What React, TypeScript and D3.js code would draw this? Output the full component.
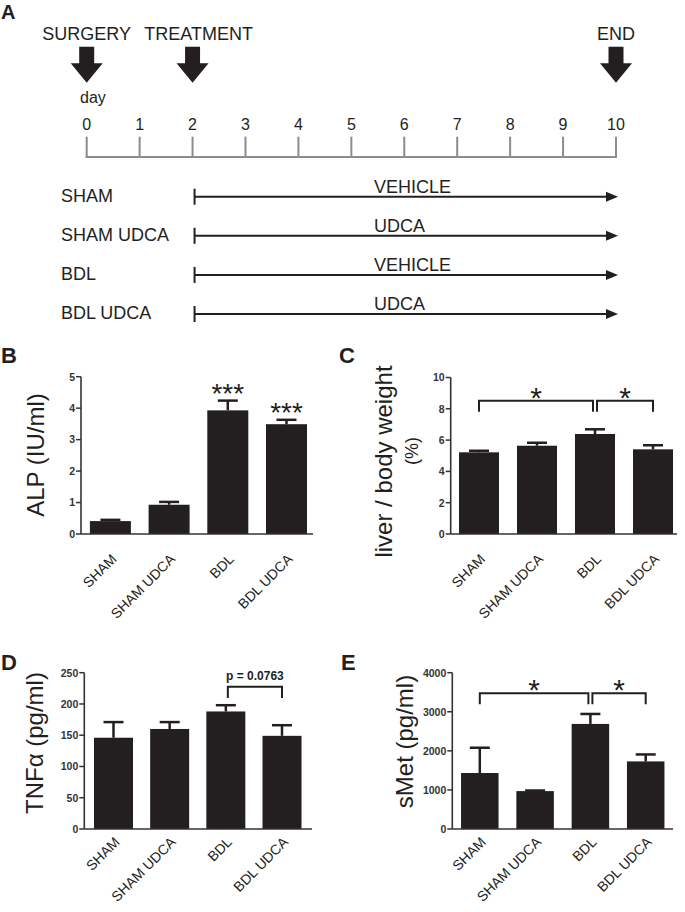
import React from "react";
import * as d3 from "d3";

const FONT = "'Liberation Sans', Arial, Helvetica, sans-serif";
const INK = "#231f20";

// ---------- data ----------
const groups = ["SHAM", "SHAM UDCA", "BDL", "BDL UDCA"];
const treatments = ["VEHICLE", "UDCA", "VEHICLE", "UDCA"];
const days = [0, 1, 2, 3, 4, 5, 6, 7, 8, 9, 10];
const events = [
  { label: "SURGERY", day: 0 },
  { label: "TREATMENT", day: 2 },
  { label: "END", day: 10 },
];
const treatmentStartDay = 2;
const treatmentEndDay = 10;

const alpMean = [0.41, 0.93, 3.93, 3.49];
const alpErr = [0.04, 0.09, 0.31, 0.14];
const alpTicks = [0, 1, 2, 3, 4, 5];

const liverMean = [5.22, 5.64, 6.39, 5.41];
const liverErr = [0.1, 0.19, 0.3, 0.26];
const liverTicks = [0, 2, 4, 6, 8, 10];

const tnfMean = [146, 160, 188, 149];
const tnfErr = [25, 11, 10, 17];
const tnfTicks = [0, 50, 100, 150, 200, 250];

const smetMean = [1433, 970, 2689, 1730];
const smetErr = [647, 15, 255, 178];
const smetTicks = [0, 1000, 2000, 3000, 4000];

// ---------- panels ----------
type Bracket = { from: number; to: number; top: number; leg: number; label: string; bold?: boolean; size: number };
type Sig = { idx: number; label: string };

type PanelCfg = {
  letter: string;
  letterX: number;
  letterY: number;
  means: number[];
  errs: number[];
  ticks: number[];
  axisX: number;
  axisEnd: number;
  y0: number;
  y1: number;
  c0: number;
  c1: number;
  barW: number;
  ylabel: string;
  ylabel2?: string;
  lx: number;
  ly: number;
  l2x?: number;
  l2y?: number;
  xlabDy: number;
  brackets: Bracket[];
  sigs: Sig[];
};

function BarPanel({ cfg }: { cfg: PanelCfg }) {
  const max = cfg.ticks[cfg.ticks.length - 1];
  const y = d3.scaleLinear().domain([0, max]).range([cfg.y0, cfg.y1]);
  const x = d3.scalePoint<string>().domain(groups).range([cfg.c0, cfg.c1]);
  const capW = 20;
  return (
    <g>
      <text x={cfg.letterX} y={cfg.letterY} fontSize={22} fontWeight="bold" fontFamily={FONT} fill={INK}>
        {cfg.letter}
      </text>
      {/* bars */}
      {groups.map((g, i) => {
        const cx = x(g)!;
        const top = y(cfg.means[i]);
        const et = y(cfg.means[i] + cfg.errs[i]);
        return (
          <g key={g}>
            <line x1={cx} x2={cx} y1={top} y2={et} stroke={INK} strokeWidth={2.5} />
            <line x1={cx - capW / 2} x2={cx + capW / 2} y1={et} y2={et} stroke={INK} strokeWidth={2.5} />
            <rect x={cx - cfg.barW / 2} y={top} width={cfg.barW} height={cfg.y0 - top} fill={INK} />
          </g>
        );
      })}
      {/* axes */}
      <line x1={cfg.axisX} x2={cfg.axisX} y1={cfg.y0} y2={y(max)} stroke="#333" strokeWidth={1.6} />
      <line x1={cfg.axisX} x2={cfg.axisEnd} y1={cfg.y0} y2={cfg.y0} stroke="#333" strokeWidth={1.6} />
      {cfg.ticks.map((t) => (
        <g key={t}>
          <line x1={cfg.axisX - 5} x2={cfg.axisX} y1={y(t)} y2={y(t)} stroke="#333" strokeWidth={1.5} />
          <text
            x={cfg.axisX - 6}
            y={y(t) + 3.8}
            textAnchor="end"
            fontSize={10.5}
            fontWeight="bold"
            fontFamily={FONT}
            fill="#333"
          >
            {t}
          </text>
        </g>
      ))}
      {/* x labels */}
      {groups.map((g) => (
        <text
          key={g}
          transform={`translate(${x(g)! + 7},${cfg.y0 + cfg.xlabDy}) rotate(-45)`}
          textAnchor="end"
          fontSize={14}
          fontFamily={FONT}
          fill={INK}
        >
          {g}
        </text>
      ))}
      {/* y label */}
      <text
        transform={`translate(${cfg.lx},${cfg.ly}) rotate(-90)`}
        textAnchor="middle"
        fontSize={24}
        fontFamily={FONT}
        fill={INK}
      >
        {cfg.ylabel}
      </text>
      {cfg.ylabel2 && (
        <text
          transform={`translate(${cfg.l2x},${cfg.l2y}) rotate(-90)`}
          textAnchor="middle"
          fontSize={18}
          fontFamily={FONT}
          fill={INK}
        >
          {cfg.ylabel2}
        </text>
      )}
      {/* brackets */}
      {cfg.brackets.map((b, k) => {
        const xa = x(groups[b.from])! + (b.from === 2 ? 2 : 0);
        const xb = x(groups[b.to])! - (b.to === 2 ? 2 : 0);
        const yt = y(b.top);
        const yl = y(b.leg);
        return (
          <g key={k}>
            <path
              d={`M${xa},${yl}V${yt}H${xb}V${yl}`}
              fill="none"
              stroke={INK}
              strokeWidth={2}
            />
            <text
              x={(xa + xb) / 2}
              y={b.bold ? yt - 7 : yt + 7}
              textAnchor="middle"
              fontSize={b.size}
              fontWeight={b.bold ? "bold" : "normal"}
              fontFamily={FONT}
              fill={INK}
            >
              {b.label}
            </text>
          </g>
        );
      })}
      {cfg.sigs.map((s) => {
        const cx = x(groups[s.idx])!;
        const et = y(cfg.means[s.idx] + cfg.errs[s.idx]);
        return (
          <text key={s.idx} x={cx} y={et + 2} textAnchor="middle" fontSize={28} fontFamily={FONT} fill={INK}>
            {s.label}
          </text>
        );
      })}
    </g>
  );
}

const panelB: PanelCfg = {
  letter: "B", letterX: 1, letterY: 363,
  means: alpMean, errs: alpErr, ticks: alpTicks,
  axisX: 81, axisEnd: 313, y0: 534, y1: 376.7, c0: 110.4, c1: 286.5, barW: 41,
  ylabel: "ALP (IU/ml)", lx: 44, ly: 455, xlabDy: 26,
  brackets: [], sigs: [{ idx: 2, label: "***" }, { idx: 3, label: "***" }],
};
const panelC: PanelCfg = {
  letter: "C", letterX: 339, letterY: 363,
  means: liverMean, errs: liverErr, ticks: liverTicks,
  axisX: 450.7, axisEnd: 677, y0: 534, y1: 377.5, c0: 479, c1: 653, barW: 40,
  ylabel: "liver / body weight", ylabel2: "(%)", lx: 392, ly: 461.5, l2x: 418, l2y: 451, xlabDy: 26,
  brackets: [
    { from: 0, to: 2, top: 8.52, leg: 7.81, label: "*", size: 30 },
    { from: 2, to: 3, top: 8.52, leg: 7.81, label: "*", size: 30 },
  ],
  sigs: [],
};
const panelD: PanelCfg = {
  letter: "D", letterX: 1, letterY: 670,
  means: tnfMean, errs: tnfErr, ticks: tnfTicks,
  axisX: 84.3, axisEnd: 312, y0: 829, y1: 672.7, c0: 113.5, c1: 282, barW: 39,
  ylabel: "TNFα (pg/ml)", lx: 42.5, ly: 743, xlabDy: 14,
  brackets: [{ from: 2, to: 3, top: 227.6, leg: 209.5, label: "p = 0.0763", bold: true, size: 12 }],
  sigs: [],
};
const panelE: PanelCfg = {
  letter: "E", letterX: 341, letterY: 670,
  means: smetMean, errs: smetErr, ticks: smetTicks,
  axisX: 452.3, axisEnd: 673, y0: 829, y1: 672.7, c0: 479.8, c1: 645.7, barW: 37.5,
  ylabel: "sMet (pg/ml)", lx: 412.5, ly: 741.5, xlabDy: 14,
  brackets: [
    { from: 0, to: 2, top: 3473, leg: 3191, label: "*", size: 30 },
    { from: 2, to: 3, top: 3473, leg: 3191, label: "*", size: 30 },
  ],
  sigs: [],
};

function Timeline() {
  const x = d3.scaleLinear().domain([0, 10]).range([86.7, 616]);
  const rowY = d3.scalePoint<string>().domain(groups).range([196.7, 314]);
  const arrow = (cx: number) =>
    `M${cx - 7.5},46.7H${cx + 7.5}V63.3H${cx + 16}L${cx},82.7L${cx - 16},63.3H${cx - 7.5}Z`;
  return (
    <g fontFamily={FONT} fill={INK}>
      <text x={1} y={19} fontSize={20} fontWeight="bold">A</text>
      {events.map((e) => (
        <g key={e.label}>
          <text x={x(e.day) + (e.label === "TREATMENT" ? 6 : 0)} y={40} fontSize={18} textAnchor="middle">
            {e.label}
          </text>
          <path d={arrow(x(e.day))} fill={INK} />
        </g>
      ))}
      <text x={80} y={103} fontSize={16}>day</text>
      {days.map((d) => (
        <g key={d}>
          <text x={x(d)} y={130} fontSize={16} textAnchor="middle">{d}</text>
          <line x1={x(d)} x2={x(d)} y1={136.7} y2={157} stroke="#8c8c8c" strokeWidth={2} />
        </g>
      ))}
      <line x1={x(0) - 1} x2={x(10) + 1} y1={157} y2={157} stroke="#8c8c8c" strokeWidth={2} />
      {groups.map((g, i) => {
        const ry = rowY(g)!;
        const xs = x(treatmentStartDay) + 2;
        const xe = x(treatmentEndDay) + 2;
        return (
          <g key={g}>
            <text x={61} y={ry + 5} fontSize={18}>{g}</text>
            <line x1={xs} x2={xs} y1={ry - 8} y2={ry + 8} stroke={INK} strokeWidth={2} />
            <line x1={xs} x2={xe - 10} y1={ry} y2={ry} stroke={INK} strokeWidth={2} />
            <path d={`M${xe},${ry}L${xe - 12},${ry - 5}L${xe - 12},${ry + 5}Z`} fill={INK} />
            <text x={374} y={ry - 4} fontSize={18}>{treatments[i]}</text>
          </g>
        );
      })}
    </g>
  );
}

export default function App() {
  return (
    <svg
      width={685}
      height={912}
      style={{ position: "absolute", left: 0, top: 0, background: "#fff" }}
    >
      <rect width={685} height={912} fill="#fff" />
      <Timeline />
      <BarPanel cfg={panelB} />
      <BarPanel cfg={panelC} />
      <BarPanel cfg={panelD} />
      <BarPanel cfg={panelE} />
    </svg>
  );
}
